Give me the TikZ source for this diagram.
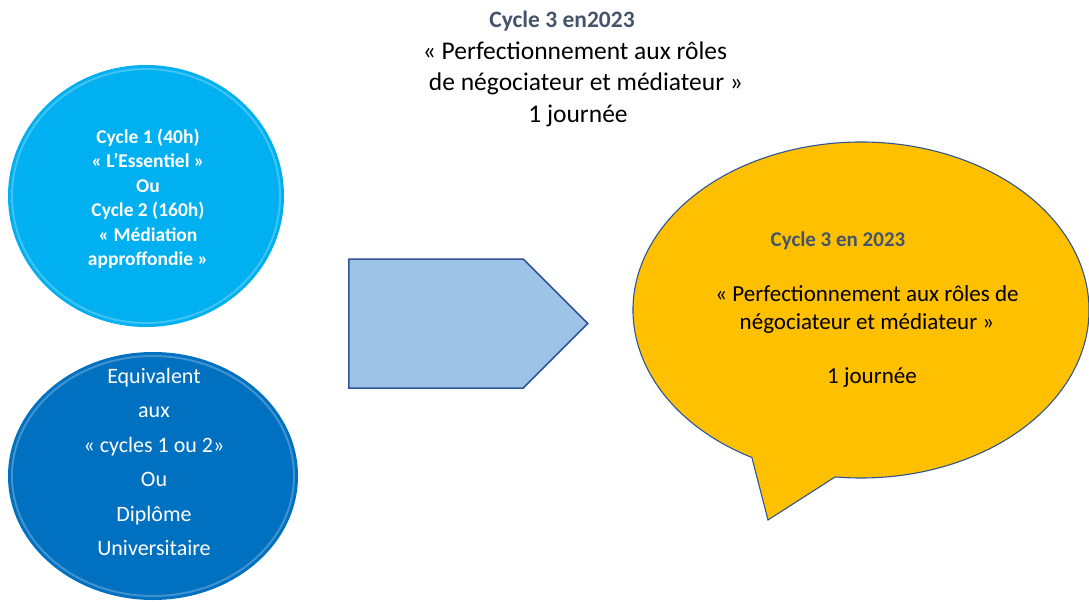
\documentclass[tikz,border=0pt]{standalone}
\usepackage{fontspec}
\setmainfont{Carlito}
\usetikzlibrary{ % tikz packages
    shapes.geometric,shapes.symbols,positioning
}
\definecolor{skyblue}{HTML}{00B0F0}
\definecolor{deepblue}{HTML}{0070C0}
\definecolor{paleblue}{HTML}{9DC3E6}
\definecolor{edgeblue}{HTML}{2F5597}
\definecolor{gold}{HTML}{FFC000}
\definecolor{slate}{HTML}{44546A}
\tikzset{every node/.style={
    inner sep=0pt,
    align=center
}}
\tikzset{bubble/.style={fill=gold, draw=edgeblue, line width=1.1pt}}
\tikzset{rim/.style={draw=white, draw opacity=0.25, line width=2pt}}
\tikzset{bodytxt/.style={font=\fontsize{25.5}{31.5}\selectfont}}

\begin{document}
\begin{tikzpicture}[x=1pt,y=-1pt]
        \useasboundingbox (0,0) rectangle (1089,602);

        % title
        \node[bodytxt] (title) at (575,69) {
            {\fontsize{23.5}{31.5}\selectfont\color{slate}\bfseries Cycle 3 en2023}\hspace*{26pt}\\
            « Perfectionnement aux rôles\\
            \hspace*{22pt}de négociateur et médiateur »\\
            \hspace*{6pt}1 journée};

        % left circles
        \node[ellipse, fill=skyblue, minimum width=276, minimum height=262] (c1) at (146,196) {};
        \draw[rim] (c1.center) ellipse[x radius=134, y radius=127];
        \node[text=white, font=\fontsize{19.5}{24.5}\selectfont\bfseries] (t1) at (148,199) {
            Cycle 1 (40h)\\
            « L’Essentiel »\\
            Ou\\
            Cycle 2 (160h)\\
            « Médiation\\
            approffondie »};

        \node[ellipse, fill=deepblue, minimum width=290, minimum height=248] (c2) at (153,476) {};
        \draw[rim] (c2.center) ellipse[x radius=141, y radius=120];
        \node[text=white, font=\fontsize{22}{34.5}\selectfont] (t2) at (154,462) {
            Equivalent\\
            aux\\
            « cycles 1 ou 2»\\
            Ou\\
            Diplôme\\
            Universitaire};

        % arrow
        \node[signal, signal to=east, signal pointer angle=90, fill=paleblue,
              draw=edgeblue, line width=1.5pt, anchor=west,
              minimum width=239, minimum height=129] (arrow) at (348,323.5) {};

        % speech bubble
        \coordinate (bc) at (861,310);
        \coordinate (tip) at (768,520);
        \draw[bubble] (tip) -- ([shift={(118.6:228 and 168)}]bc)
            arc[start angle=118.6, end angle=456.5, x radius=228, y radius=168] -- cycle;
        \node[text=slate, font=\fontsize{21}{24}\selectfont\bfseries] (b1) at (838,241) {Cycle 3 en 2023};
        \node[font=\fontsize{23}{28}\selectfont] (b2) at (867,309) {
            « Perfectionnement aux rôles de\\
            négociateur et médiateur »};
        \node[font=\fontsize{23}{28}\selectfont] (b3) at (872,378) {1 journée};
    \end{tikzpicture}
\end{document}
